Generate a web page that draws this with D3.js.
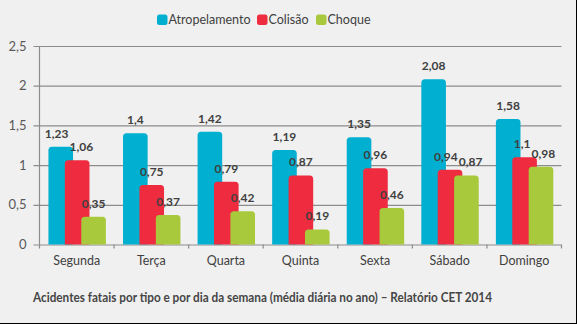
<!DOCTYPE html>
<html>
<head>
<meta charset="utf-8">
<script src="https://cdn.jsdelivr.net/npm/d3@7"></script>
<style>
  html, body { margin: 0; padding: 0; background: #f0f0f0; }
  svg { display: block; }
  text { font-family: "Lato", "Open Sans", sans-serif; }
</style>
</head>
<body>
<svg id="chart" width="577" height="324"></svg>
<script>
// Dias da semana e séries (média diária de acidentes fatais, 2014)
const dias = ["Segunda", "Terça", "Quarta", "Quinta", "Sexta", "Sábado", "Domingo"];
const series = ["Atropelamento", "Colisão", "Choque"];
const atropelamento = [1.23, 1.4, 1.42, 1.19, 1.35, 2.08, 1.58];
const colisao = [1.06, 0.75, 0.79, 0.87, 0.96, 0.94, 1.1];
const choque = [0.35, 0.37, 0.42, 0.19, 0.46, 0.87, 0.98];
const yTicks = [0, 0.5, 1, 1.5, 2, 2.5];
const cores = ["#01afd1", "#ee2b3f", "#a7c93b"];
const titulo = "Acidentes fatais por tipo e por dia da semana (média diária no ano) – Relatório CET 2014";

const valores = [atropelamento, colisao, choque];
const fmt = v => String(v).replace(".", ",");

const svg = d3.select("#chart");
const W = 577, H = 324;
const plot = { left: 39.5, right: 561.5, top: 46, bottom: 244.5 };

svg.append("rect").attr("width", W).attr("height", H).attr("fill", "#f0f0f0");

const x = d3.scaleBand().domain(dias).range([plot.left, plot.right]).padding(0);
const y = d3.scaleLinear().domain([0, 2.5]).range([plot.bottom, plot.top]);

// Posição das barras dentro de cada dia (barras sobrepostas)
const bw = x.bandwidth();
const barW = bw * 0.33;
const sub = d3.scaleLinear().domain([0, series.length - 1]).range([bw * 0.12, bw * 0.56]);

// Linhas de grade e rótulos do eixo Y
const yAxis = d3.axisLeft(y).tickValues(yTicks).tickFormat(fmt);
const gy = svg.append("g").attr("transform", `translate(${plot.left},0)`).call(yAxis);
gy.select(".domain").remove();
gy.selectAll(".tick line")
  .attr("x1", -6).attr("x2", plot.right - plot.left)
  .attr("stroke", "#8c8c8c").attr("stroke-width", 1.2);
gy.selectAll(".tick text")
  .attr("x", -13).attr("fill", "#595959").attr("font-size", 13);

// Eixo vertical
svg.append("line")
  .attr("x1", plot.left).attr("x2", plot.left)
  .attr("y1", y(2.5)).attr("y2", y(0))
  .attr("stroke", "#8c8c8c").attr("stroke-width", 1.2);

// Eixo X com marcas entre categorias
const xBounds = dias.map(d => x(d)).concat([plot.right]);
svg.append("g").selectAll("line").data(xBounds).join("line")
  .attr("x1", d => d).attr("x2", d => d)
  .attr("y1", y(0)).attr("y2", y(0) + 4)
  .attr("stroke", "#8c8c8c").attr("stroke-width", 1.2);
svg.append("g").selectAll("text").data(dias).join("text")
  .attr("x", d => x(d) + bw / 2).attr("y", 265)
  .attr("text-anchor", "middle").attr("font-size", 12.5).attr("fill", "#404040")
  .text(d => d);

// Barra com cantos superiores arredondados
function barPath(x0, yTop, w, yBase, r) {
  r = Math.min(r, (yBase - yTop), w / 2);
  return `M${x0},${yBase}V${yTop + r}Q${x0},${yTop} ${x0 + r},${yTop}` +
         `H${x0 + w - r}Q${x0 + w},${yTop} ${x0 + w},${yTop + r}V${yBase}Z`;
}

const barras = svg.append("g");
const rotulos = svg.append("g");
const rotulosPorDia = dias.map(() => []);
series.forEach((s, i) => {
  const dados = dias.map((d, j) => ({ dia: d, j, v: valores[i][j] }));
  barras.append("g").selectAll("path").data(dados).join("path")
    .attr("d", d => barPath(x(d.dia) + sub(i), y(d.v), barW, y(0), 3.5))
    .attr("fill", cores[i]);
  rotulos.append("g").selectAll("text").data(dados).join("text")
    .attr("x", d => x(d.dia) + sub(i) + barW / 2)
    .attr("y", d => y(d.v) - 9)
    .attr("text-anchor", "middle")
    .attr("font-size", 12).attr("font-weight", 700).attr("fill", "#404040")
    .text(d => fmt(d.v))
    .each(function (d) { rotulosPorDia[d.j].push(this); });
});

// Afasta horizontalmente rótulos vizinhos que se sobrepõem
rotulosPorDia.forEach(lista => {
  for (let k = 0; k < lista.length - 1; k++) {
    const a = lista[k], b = lista[k + 1];
    const ba = a.getBBox(), bb = b.getBBox();
    const vOver = Math.min(ba.y + ba.height, bb.y + bb.height) - Math.max(ba.y, bb.y);
    const hOver = (ba.x + ba.width) - bb.x + 1;
    if (vOver > 1 && hOver > 0) {
      a.setAttribute("x", +a.getAttribute("x") - hOver / 2);
      b.setAttribute("x", +b.getAttribute("x") + hOver / 2);
    }
  }
});

// Legenda
const legX = [157, 257, 316];
const leg = svg.append("g");
series.forEach((s, i) => {
  leg.append("rect").attr("x", legX[i]).attr("y", 14.5).attr("width", 10.5).attr("height", 10.5)
    .attr("rx", 2.5).attr("fill", cores[i]);
  leg.append("text").attr("x", legX[i] + 11.5).attr("y", 24)
    .attr("font-size", 12.5).attr("fill", "#404040").text(s);
});

// Título
svg.append("text").attr("x", 33).attr("y", 302)
  .attr("font-size", 13.5).attr("font-weight", 700).attr("fill", "#454545")
  .attr("textLength", 459).attr("lengthAdjust", "spacingAndGlyphs")
  .text(titulo);

// Moldura
svg.append("line").attr("x1", 576.5).attr("x2", 576.5).attr("y1", 0).attr("y2", H).attr("stroke", "#000");
svg.append("line").attr("x1", 0).attr("x2", W).attr("y1", 323.5).attr("y2", 323.5).attr("stroke", "#000");
</script>
</body>
</html>
